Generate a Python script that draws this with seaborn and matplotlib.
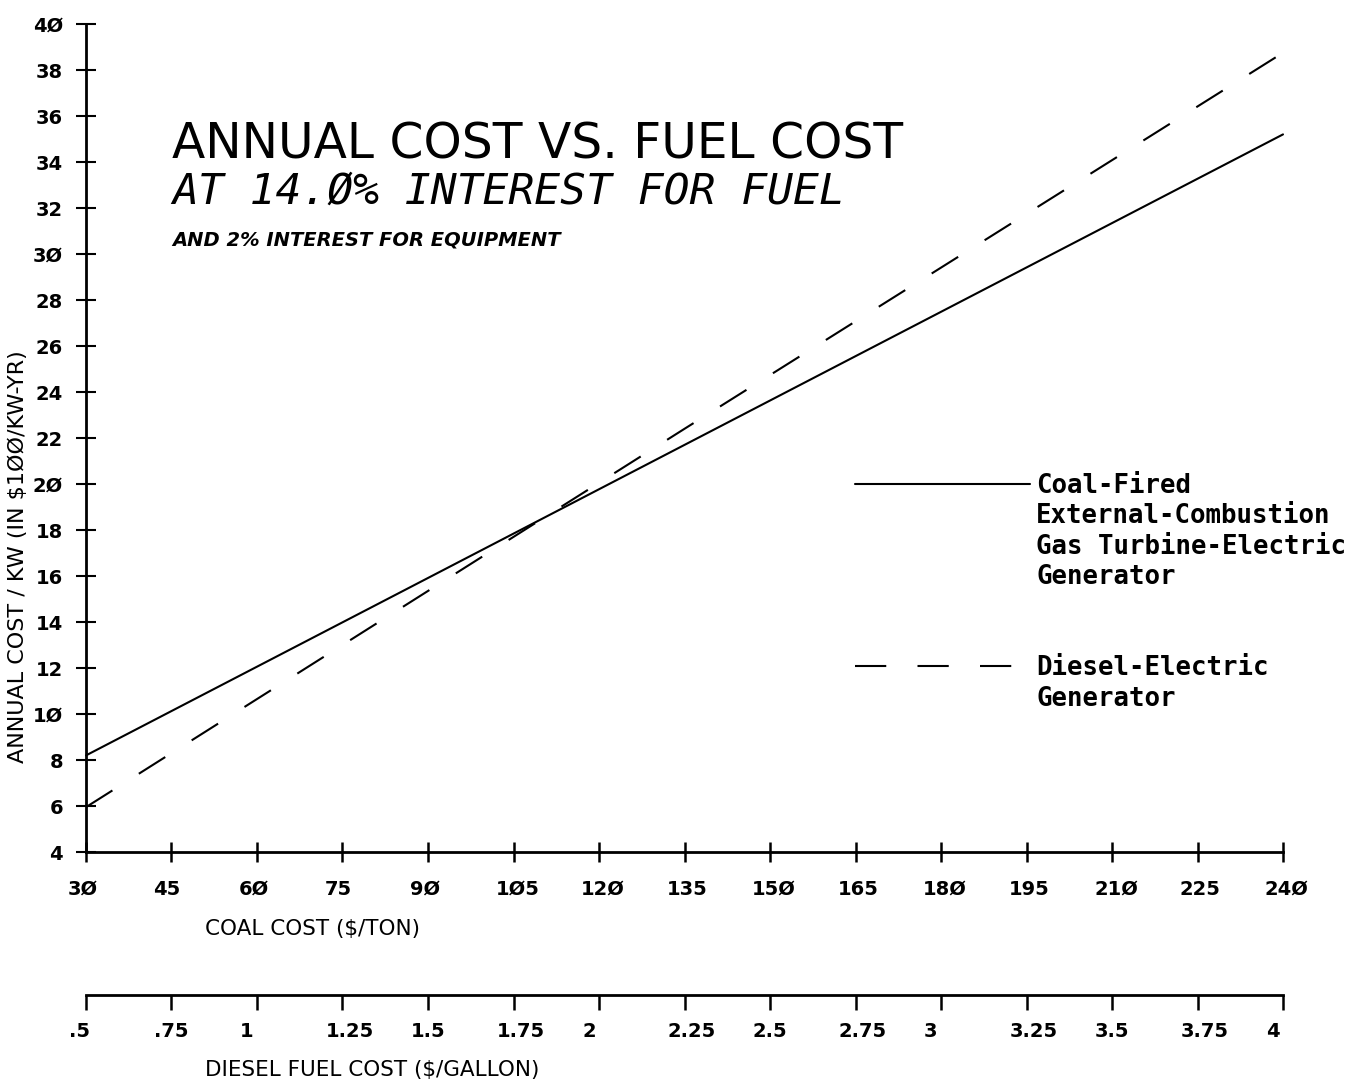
import numpy as np
import pandas as pd
import matplotlib
matplotlib.use('Agg')
import matplotlib.pyplot as plt
import matplotlib.transforms as mtransforms
from matplotlib.lines import Line2D
import seaborn as sns

# values
coal_cost = [30, 135, 240]
coal_fired = [8.2, 21.7, 35.2]
diesel_electric = [5.95, 22.4, 38.75]

coal_ticks = list(range(30, 241, 15))
diesel_ticks = [0.5, 0.75, 1, 1.25, 1.5, 1.75, 2, 2.25, 2.5, 2.75, 3, 3.25, 3.5, 3.75, 4]
diesel_tick_labels = ['.5', '.75', '1', '1.25', '1.5', '1.75', '2', '2.25', '2.5',
                      '2.75', '3', '3.25', '3.5', '3.75', '4']
y_ticks = list(range(4, 41, 2))

legend_coal = ['Coal-Fired', 'External-Combustion', 'Gas Turbine-Electric', 'Generator']
legend_diesel = ['Diesel-Electric', 'Generator']


def slashed(v):
    return str(v).replace('0', 'Ø')


sns.set_style('ticks')
plt.rcParams['font.family'] = ['DejaVu Sans']
plt.rcParams.update({'text.color': 'black', 'axes.labelcolor': 'black',
                     'xtick.color': 'black', 'ytick.color': 'black',
                     'axes.edgecolor': 'black'})

W, H = 1361, 1086
fig = plt.figure(figsize=(W / 100, H / 100), dpi=100)
ax = fig.add_axes([86 / W, 1 - 852 / H, 1197 / W, 828 / H])

df = pd.DataFrame({
    'coal': coal_cost * 2,
    'cost': coal_fired + diesel_electric,
    'series': ['coal'] * len(coal_cost) + ['diesel'] * len(coal_cost),
})
sns.lineplot(data=df, x='coal', y='cost', hue='series', style='series',
             palette={'coal': 'black', 'diesel': 'black'},
             dashes={'coal': '', 'diesel': (15, 15)},
             linewidth=1.5, legend=False, ax=ax, clip_on=False)

ax.set_xlim(30, 240)
ax.set_ylim(4, 40)
sns.despine(ax=ax)
for s in ['left', 'bottom']:
    ax.spines[s].set_linewidth(2)

# y axis
ax.set_yticks(y_ticks, labels=[slashed(v) for v in y_ticks])
ax.tick_params(axis='y', direction='inout', length=14.4, width=1.5, pad=9.4,
               labelsize=14)
for lbl in ax.get_yticklabels():
    lbl.set_fontweight('bold')

# coal axis
ax.set_xticks(coal_ticks, labels=[slashed(v) for v in coal_ticks])
ax.tick_params(axis='x', direction='inout', length=14.4, width=1.8, pad=13,
               labelsize=14)
shift = mtransforms.ScaledTranslation(-0.18, 0, fig.dpi_scale_trans)
for lbl in ax.get_xticklabels():
    lbl.set_fontweight('bold')
    lbl.set_horizontalalignment('left')
    lbl.set_transform(lbl.get_transform() + shift)

# diesel axis
secax = ax.secondary_xaxis((852 - 995) / 828,
                           functions=(lambda c: 0.5 + (c - 30) / 60.0,
                                      lambda d: 30 + (d - 0.5) * 60.0))
secax.spines['bottom'].set_linewidth(2)
secax.set_xticks(diesel_ticks, labels=diesel_tick_labels)
secax.tick_params(axis='x', direction='out', length=10.8, width=1.8, pad=8.6,
                  labelsize=14)
shift2 = mtransforms.ScaledTranslation(-0.17, 0, fig.dpi_scale_trans)
for lbl in secax.get_xticklabels():
    lbl.set_fontweight('bold')
    lbl.set_horizontalalignment('left')
    lbl.set_transform(lbl.get_transform() + shift2)

# axis labels
ax.set_xlabel('COAL COST ($/TON)', fontsize=15.5, ha='left', va='center')
ax.xaxis.set_label_coords(205 / W, 1 - 929 / H, transform=fig.transFigure)
secax.set_xlabel('DIESEL FUEL COST ($/GALLON)', fontsize=15.5, ha='left', va='center')
secax.xaxis.set_label_coords(205 / W, 1 - 1070 / H, transform=fig.transFigure)
ax.set_ylabel('ANNUAL COST / KW (IN $1ØØ/KW-YR)', fontsize=16, va='center')
ax.yaxis.set_label_coords(18 / W, 1 - 557 / H, transform=fig.transFigure)

# titles
fig.text(172 / W, 1 - 145 / H, 'ANNUAL COST VS. FUEL COST', fontsize=35,
         ha='left', va='center')
fig.text(172 / W, 1 - 192 / H, 'AT 14.Ø% INTEREST FOR FUEL', fontsize=31,
         family=['DejaVu Sans Mono'], style='italic', ha='left', va='center')
fig.text(172 / W, 1 - 240 / H, 'AND 2% INTEREST FOR EQUIPMENT', fontsize=14,
         weight='bold', style='italic', ha='left', va='center')

# legend, one row per text line
lines = ax.get_lines()
blank = Line2D([], [], linestyle='none')
handles = [lines[0], blank, blank, blank, blank, blank, lines[1], blank]
labels = legend_coal + [' ', ' '] + legend_diesel
leg = ax.legend(handles, labels, loc='upper left',
                bbox_to_anchor=(855 / W, 1 - 473 / H), bbox_transform=fig.transFigure,
                frameon=False, borderaxespad=0, borderpad=0,
                handlelength=6.8, handletextpad=0.25, labelspacing=0.17,
                prop={'family': 'DejaVu Sans Mono', 'weight': 'bold', 'size': 18.5})

fig.savefig('out.png', dpi=100)
